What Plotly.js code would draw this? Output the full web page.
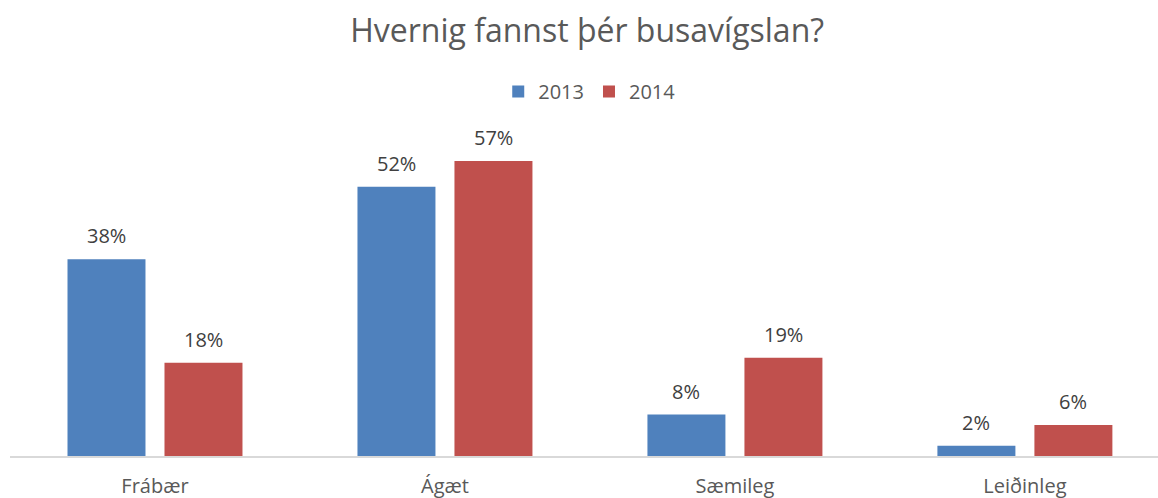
<!DOCTYPE html>
<html>
<head>
<meta charset="utf-8">
<script src="https://cdn.plot.ly/plotly-3.0.1.min.js"></script>
<style>
html,body{margin:0;padding:0;overflow:hidden;background:#fff;}
#chart{width:1158px;height:498px;}
</style>
</head>
<body>
<div id="chart"></div>
<script>
const categories = ["Frábær", "Ágæt", "Sæmileg", "Leiðinleg"];
const seriesNames = ["2013", "2014"];
const values2013 = [38, 52, 8, 2];
const values2014 = [18, 57, 19, 6];
const colors = ["#4F81BD", "#C0504D"];

const FONT = "Open Sans, Noto Sans, sans-serif";
const series = [values2013, values2014];
const bargap = 0.331, bargroupgap = 0.196;
const traces = series.map((vals, i) => ({
  type: "bar",
  name: seriesNames[i],
  x: categories,
  y: vals,
  marker: {color: colors[i]},
  hoverinfo: "skip"
}));

// value labels above bars, placed through the axis scales
const annotations = [];
series.forEach((vals, i) => {
  vals.forEach((v, j) => {
    annotations.push({
      x: categories[j], y: v, xref: "x", yref: "y",
      text: v + "%", showarrow: false,
      xshift: (i === 0 ? -1 : 1) * 48.5,
      yanchor: "bottom", yshift: 8,
      font: {family: FONT, size: 20, color: "#404040"}
    });
  });
});

const layout = {
  width: 1158, height: 498,
  margin: {l: 10, r: 0, t: 120, b: 42},
  paper_bgcolor: "#fff", plot_bgcolor: "#fff",
  title: {text: "Hvernig fannst þér busavígslan?", x: 0.507, xanchor: "center", y: 0.938, yanchor: "middle",
          font: {family: FONT, size: 32, color: "#595959"}},
  barmode: "group", bargap: bargap, bargroupgap: bargroupgap,
  showlegend: true,
  legend: {orientation: "h", x: 0.505, xanchor: "center", y: 1.085, yanchor: "middle",
           font: {family: FONT, size: 20, color: "#595959"},
           itemwidth: 30, tracegroupgap: 0},
  xaxis: {type: "category", range: [-0.5, 3.459], showgrid: false, zeroline: false,
          showline: true, linecolor: "#D9D9D9", linewidth: 1.5, ticks: "",
          ticklabelstandoff: 11,
          tickfont: {family: FONT, size: 20, color: "#595959"}},
  yaxis: {range: [0, 64.9], visible: false, showgrid: false, zeroline: false},
  annotations: annotations
};

Plotly.newPlot("chart", traces, layout, {displayModeBar: false, staticPlot: true});
</script>
</body>
</html>
